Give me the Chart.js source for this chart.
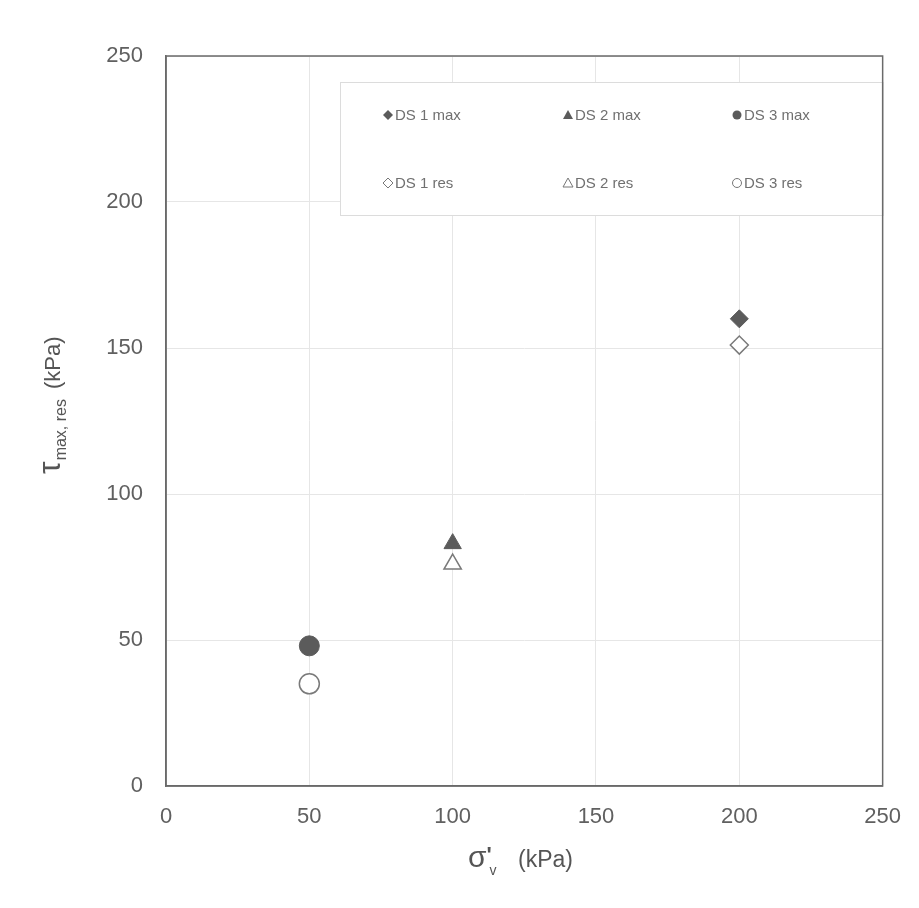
<!DOCTYPE html>
<html>
<head>
<meta charset="utf-8">
<script src="https://cdn.jsdelivr.net/npm/chart.js@4/dist/chart.umd.min.js"></script>
<style>
  html, body { margin: 0; padding: 0; background: #fff; }
  #wrap { width: 919px; height: 908px; position: relative; }
</style>
</head>
<body>
<div id="wrap"><canvas id="c" width="919" height="908"></canvas></div>
<script>
// ---------- Data ----------
var seriesNames = ['DS 1 max', 'DS 2 max', 'DS 3 max', 'DS 1 res', 'DS 2 res', 'DS 3 res'];
var stressX     = [200, 100, 50, 200, 100, 50];      // sigma'v (kPa)
var shearY      = [160, 83, 48, 151, 76, 35];        // tau max/res (kPa)
var pointStyles = ['rectRot', 'triangle', 'circle', 'rectRot', 'triangle', 'circle'];
var filled      = [true, true, true, false, false, false];
var xTicks = [0, 50, 100, 150, 200, 250];
var yTicks = [0, 50, 100, 150, 200, 250];

var dark = '#5b5b5b';
var txt = '#606060';
var FONT = "'Liberation Sans', Arial, sans-serif";

var datasets = seriesNames.map(function (name, i) {
  var r = pointStyles[i] === 'rectRot' ? 9 : 10;
  return {
    label: name,
    data: [{ x: stressX[i], y: shearY[i] }],
    pointStyle: pointStyles[i],
    pointRadius: r,
    pointHoverRadius: r,
    backgroundColor: filled[i] ? dark : '#ffffff',
    borderColor: filled[i] ? dark : '#7a7a7a',
    borderWidth: filled[i] ? 1 : 1.5,
    order: filled[i] ? 2 : 1,
  };
});

// ---------- Legend box drawn inside plot area ----------
function drawMarker(ctx, style, x, y, r, fill) {
  ctx.save();
  ctx.beginPath();
  if (style === 'circle') {
    ctx.arc(x, y, r, 0, Math.PI * 2);
  } else if (style === 'triangle') {
    ctx.moveTo(x, y - r);
    ctx.lineTo(x + r, y + r * 0.8);
    ctx.lineTo(x - r, y + r * 0.8);
    ctx.closePath();
  } else {
    ctx.moveTo(x, y - r);
    ctx.lineTo(x + r, y);
    ctx.lineTo(x, y + r);
    ctx.lineTo(x - r, y);
    ctx.closePath();
  }
  if (fill) { ctx.fillStyle = dark; ctx.fill(); }
  else { ctx.fillStyle = '#fff'; ctx.fill(); ctx.strokeStyle = '#777'; ctx.lineWidth = 1; ctx.stroke(); }
  ctx.restore();
}

var legendPlugin = {
  id: 'boxLegend',
  afterDatasetsDraw: function (chart) {
    var ctx = chart.ctx;
    var area = chart.chartArea;
    var bx = 340, by = 82, bw = area.right - 340, bh = 133;
    ctx.save();
    ctx.fillStyle = '#fff';
    ctx.fillRect(bx, by, bw, bh);
    ctx.strokeStyle = '#dcdcdc';
    ctx.lineWidth = 1;
    ctx.strokeRect(bx + 0.5, by + 0.5, bw, bh);
    var colX = [388, 568, 737];
    var rowY = [115, 183];
    ctx.font = '15px ' + FONT;
    ctx.textBaseline = 'middle';
    for (var i = 0; i < seriesNames.length; i++) {
      var col = i % 3, row = Math.floor(i / 3);
      var mx = colX[col], my = rowY[row];
      drawMarker(ctx, pointStyles[i], mx, my, pointStyles[i] === 'circle' ? 4.5 : 5, filled[i]);
      ctx.fillStyle = '#707070';
      ctx.fillText(seriesNames[i], mx + 7, my + 1);
    }
    ctx.restore();
  }
};

// ---------- Axis titles with sub/superscripts ----------
var titlePlugin = {
  id: 'axisTitles',
  afterDraw: function (chart) {
    var ctx = chart.ctx;
    ctx.save();
    ctx.fillStyle = '#555';
    ctx.textBaseline = 'alphabetic';

    // x title: sigma'v (kPa)
    var x0 = 468, yb = 867;
    ctx.font = '30px ' + FONT;
    ctx.fillText('\u03C3', x0, yb);
    var w = ctx.measureText('\u03C3').width;
    ctx.font = 'bold 22px ' + FONT;
    ctx.fillText("'", x0 + w, yb - 5);
    ctx.font = '14px ' + FONT;
    ctx.fillText('v', x0 + w + 3, yb + 8);
    ctx.font = '23px ' + FONT;
    ctx.fillText('(kPa)', 518, yb);

    // y title: tau max,res (kPa), rotated
    ctx.translate(60, 474);
    ctx.rotate(-Math.PI / 2);
    ctx.font = '32px ' + FONT;
    ctx.fillText('\u03C4', 0, 0);
    var tw = ctx.measureText('\u03C4').width;
    ctx.font = '16px ' + FONT;
    ctx.fillText('max, res', tw + 1, 6);
    var sw = ctx.measureText('max, res').width;
    ctx.font = '22px ' + FONT;
    ctx.fillText('(kPa)', tw + 1 + sw + 10, 0);
    ctx.restore();
  }
};

new Chart(document.getElementById('c'), {
  type: 'scatter',
  data: { datasets: datasets },
  options: {
    responsive: false,
    animation: false,
    layout: { padding: { top: 56, right: 33, left: 0, bottom: 0 } },
    plugins: {
      legend: { display: false },
      tooltip: { enabled: false },
    },
    scales: {
      x: {
        type: 'linear',
        min: 0, max: 250,
        afterBuildTicks: function (s) { s.ticks = xTicks.map(function (v) { return { value: v }; }); },
        afterFit: function (s) { s.height = 122; },
        grid: { color: '#e6e6e6', lineWidth: 1, drawTicks: false },
        border: { color: '#6a6a6a', width: 1.5 },
        ticks: { color: txt, font: { family: FONT, size: 22 }, padding: 18, maxRotation: 0 },
      },
      y: {
        type: 'linear',
        min: 0, max: 250,
        afterBuildTicks: function (s) { s.ticks = yTicks.map(function (v) { return { value: v }; }); },
        afterFit: function (s) { s.width = 166; },
        grid: { color: '#e6e6e6', lineWidth: 1, drawTicks: false },
        border: { color: '#6a6a6a', width: 1.5 },
        ticks: { color: txt, font: { family: FONT, size: 22 }, padding: 23 },
      },
    },
  },
  plugins: [
    {
      id: 'frame',
      afterDraw: function (chart) {
        var a = chart.chartArea, ctx = chart.ctx;
        ctx.save();
        ctx.strokeStyle = '#6a6a6a';
        ctx.lineWidth = 1.5;
        ctx.strokeRect(a.left, a.top, a.right - a.left, a.bottom - a.top);
        ctx.restore();
      }
    },
    legendPlugin,
    titlePlugin,
  ],
});
</script>
</body>
</html>
